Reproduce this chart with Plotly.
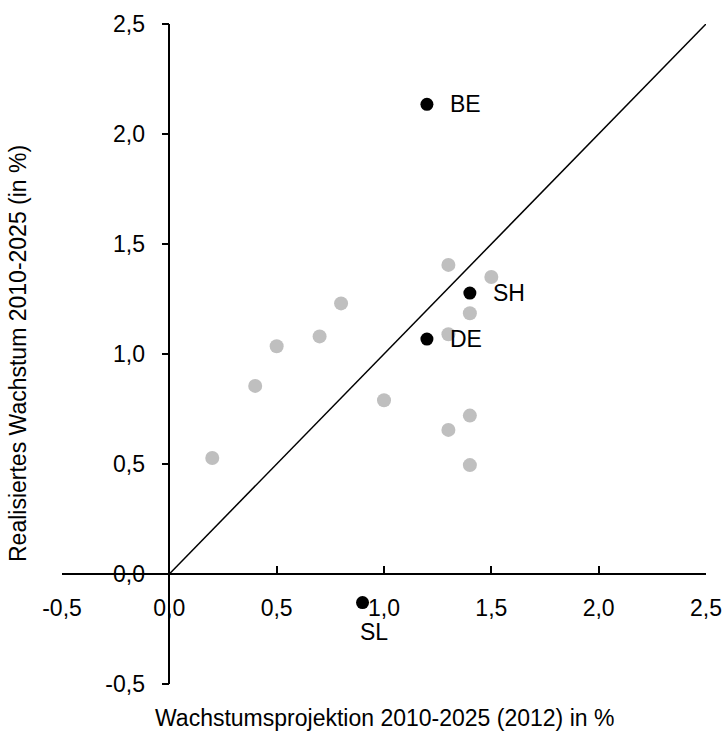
import plotly.graph_objects as go

# Data
grey_x = [0.2, 0.4, 0.5, 0.7, 0.8, 1.0, 1.3, 1.3, 1.3, 1.4, 1.4, 1.4, 1.5]
grey_y = [0.527, 0.855, 1.035, 1.08, 1.23, 0.79, 1.405, 1.09, 0.655, 1.185, 0.72, 0.495, 1.35]
black_labels = ["BE", "SH", "DE", "SL"]
black_x = [1.2, 1.4, 1.2, 0.9]
black_y = [2.135, 1.277, 1.068, -0.13]
diag_x = [0.0, 2.5]
diag_y = [0.0, 2.5]
tick_vals = [-0.5, 0.0, 0.5, 1.0, 1.5, 2.0, 2.5]
tick_text = ["-0,5", "0,0", "0,5", "1,0", "1,5", "2,0", "2,5"]

FONT = "Liberation Sans, Arial, sans-serif"
FS = 23

fig = go.Figure()
fig.add_trace(go.Scatter(x=diag_x, y=diag_y, mode="lines",
                         line=dict(color="black", width=1.5), hoverinfo="skip"))
fig.add_trace(go.Scatter(x=grey_x, y=grey_y, mode="markers",
                         marker=dict(color="#BFBFBF", size=14, line=dict(width=0))))
fig.add_trace(go.Scatter(x=black_x, y=black_y, mode="markers",
                         marker=dict(color="black", size=13, line=dict(width=0))))

offsets = {"BE": (21, 0, "left", "middle"), "SH": (21, 0, "left", "middle"),
           "DE": (21, 0, "left", "middle"), "SL": (11, -14, "center", "top")}
for lab, x, y in zip(black_labels, black_x, black_y):
    dx, dy, xa, ya = offsets[lab]
    fig.add_annotation(x=x, y=y, text=lab, showarrow=False, xanchor=xa, yanchor=ya,
                       xshift=dx, yshift=dy, font=dict(family=FONT, size=FS, color="black"))

rng = [-0.5, 2.5]
pos0 = (0 - rng[0]) / (rng[1] - rng[0])

fig.update_layout(
    width=725, height=731,
    margin=dict(l=62, r=19, t=24, b=47, pad=0),
    plot_bgcolor="white", paper_bgcolor="white",
    showlegend=False,
    font=dict(family=FONT, size=FS, color="black"),
    xaxis=dict(range=rng, tickvals=tick_vals, ticktext=tick_text,
               anchor="free", position=pos0, showline=True, linecolor="black",
               linewidth=1.5, ticks="inside", ticklen=7, tickwidth=1.5, tickcolor="black",
               showgrid=False, zeroline=False, ticklabelstandoff=14, automargin=False,
               tickfont=dict(family=FONT, size=FS, color="black")),
    yaxis=dict(range=rng, tickvals=tick_vals, ticktext=tick_text,
               anchor="free", position=pos0, showline=True, linecolor="black",
               linewidth=1.5, ticks="outside", ticklen=7, tickwidth=1.5, tickcolor="black",
               showgrid=False, zeroline=False, ticklabelstandoff=12, automargin=False,
               tickfont=dict(family=FONT, size=FS, color="black")),
)

fig.add_annotation(xref="paper", yref="paper", x=0.5, y=0, yshift=-34,
                   text="Wachstumsprojektion 2010-2025 (2012) in %", showarrow=False,
                   xanchor="center", yanchor="middle", font=dict(family=FONT, size=FS))
fig.add_annotation(xref="paper", yref="paper", x=0, y=0.5, xshift=-44,
                   text="Realisiertes Wachstum 2010-2025 (in %)", showarrow=False,
                   textangle=-90, xanchor="center", yanchor="middle",
                   font=dict(family=FONT, size=FS))

fig.write_html("out.html", config={"displayModeBar": False},
               post_script="document.body.style.margin='0';document.body.style.overflow='hidden';")
